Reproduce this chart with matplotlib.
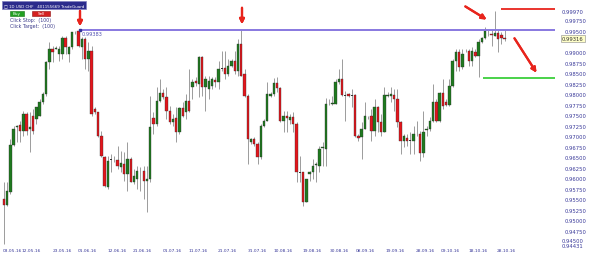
import matplotlib
matplotlib.use("Agg")
import matplotlib.pyplot as plt
from matplotlib.patches import Rectangle

# ---------------- data ----------------
opens = [0.9551,0.9537,0.9568,0.9679,0.9722,0.9727,0.9713,0.9753,0.9717,0.9748,
         0.9741,0.9748,0.9781,0.9800,0.9876,0.9907,0.9907,0.9895,0.9895,0.9933,
         0.9895,0.9912,0.9948,0.9950,0.9912,0.9931,0.9884,0.9903,0.9765,0.9758,
         0.9701,0.9651,0.9580,0.9644,0.9644,0.9644,0.9627,0.9634,0.9610,0.9646,
         0.9592,0.9599,0.9618,0.9618,0.9594,0.9599,0.9743,0.9729,0.9784,0.9803,
         0.9793,0.9760,0.9734,0.9743,0.9710,0.9767,0.9758,0.9784,0.9817,0.9831,
         0.9824,0.9888,0.9817,0.9812,0.9819,0.9834,0.9829,0.9862,0.9862,0.9848,
         0.9867,0.9879,0.9855,0.9919,0.9848,0.9796,0.9686,0.9694,0.9682,0.9651,
         0.9724,0.9736,0.9796,0.9800,0.9827,0.9815,0.9736,0.9748,0.9739,0.9746,
         0.9729,0.9615,0.9615,0.9544,0.9610,0.9615,0.9632,0.9629,0.9672,0.9670,
         0.9779,0.9777,0.9777,0.9829,0.9836,0.9798,0.9800,0.9796,0.9798,0.9701,
         0.9698,0.9717,0.9746,0.9748,0.9713,0.9770,0.9734,0.9710,0.9796,0.9796,
         0.9798,0.9789,0.9734,0.9689,0.9696,0.9691,0.9689,0.9705,0.9705,0.9660,
         0.9715,0.9717,0.9736,0.9781,0.9736,0.9803,0.9781,0.9774,0.9819,0.9879,
         0.9900,0.9865,0.9902,0.9903,0.9879,0.9900,0.9891,0.9924,0.9933,0.9943,
         0.9943,0.9938,0.9945,0.9941,0.9934]
highs = [0.9592,0.9592,0.9694,0.9724,0.9727,0.9736,0.9760,0.9758,0.9758,0.9765,
         0.9770,0.9789,0.9805,0.9879,0.9924,0.9914,0.9914,0.9914,0.9938,0.9938,
         0.9914,0.9948,0.9950,0.9955,0.9936,0.9936,0.9924,0.9914,0.9770,0.9758,
         0.9713,0.9653,0.9653,0.9658,0.9653,0.9677,0.9665,0.9663,0.9686,0.9651,
         0.9622,0.9629,0.9627,0.9629,0.9629,0.9796,0.9758,0.9817,0.9836,0.9812,
         0.9817,0.9772,0.9753,0.9770,0.9770,0.9781,0.9800,0.9860,0.9836,0.9841,
         0.9891,0.9891,0.9843,0.9843,0.9841,0.9841,0.9879,0.9903,0.9903,0.9884,
         0.9884,0.9903,0.9931,0.9952,0.9860,0.9800,0.9696,0.9698,0.9686,0.9729,
         0.9741,0.9829,0.9805,0.9838,0.9841,0.9817,0.9760,0.9760,0.9753,0.9758,
         0.9734,0.9653,0.9615,0.9599,0.9617,0.9646,0.9639,0.9677,0.9686,0.9791,
         0.9789,0.9796,0.9836,0.9860,0.9884,0.9808,0.9803,0.9812,0.9800,0.9705,
         0.9734,0.9781,0.9748,0.9765,0.9789,0.9772,0.9753,0.9817,0.9805,0.9817,
         0.9812,0.9812,0.9736,0.9705,0.9705,0.9710,0.9724,0.9736,0.9713,0.9760,
         0.9724,0.9746,0.9824,0.9789,0.9805,0.9836,0.9789,0.9836,0.9884,0.9907,
         0.9907,0.9907,0.9907,0.9907,0.9912,0.9907,0.9931,0.9936,0.9960,0.9952,
         0.9952,0.9997,0.9952,0.9948,0.9952]
lows = [0.94431,0.9534,0.9563,0.9677,0.9686,0.9686,0.9701,0.9703,0.9663,0.9706,
        0.9729,0.9748,0.9777,0.9796,0.9860,0.9876,0.9907,0.9879,0.9884,0.9895,
        0.9876,0.9907,0.9943,0.9912,0.9884,0.9860,0.9855,0.9748,0.9753,0.9698,
        0.9651,0.9580,0.9575,0.9615,0.9639,0.9622,0.9615,0.9594,0.9570,0.9591,
        0.9587,0.9575,0.9570,0.9551,0.9520,0.9592,0.9706,0.9724,0.9781,0.9789,
        0.9741,0.9729,0.9724,0.9686,0.9705,0.9746,0.9741,0.9758,0.9789,0.9819,
        0.9793,0.9796,0.9760,0.9789,0.9812,0.9817,0.9812,0.9855,0.9836,0.9843,
        0.9865,0.9848,0.9843,0.9843,0.9793,0.9634,0.9682,0.9677,0.9634,0.9646,
        0.9722,0.9736,0.9793,0.9796,0.9805,0.9734,0.9710,0.9710,0.9729,0.9710,
        0.9591,0.9591,0.9534,0.9544,0.9594,0.9599,0.9592,0.9615,0.9629,0.9629,
        0.9774,0.9774,0.9777,0.9824,0.9796,0.9736,0.9793,0.9770,0.9698,0.9689,
        0.9646,0.9717,0.9741,0.9689,0.9701,0.9710,0.9701,0.9710,0.9793,0.9781,
        0.9760,0.9722,0.9658,0.9675,0.9677,0.9658,0.9658,0.9701,0.9641,0.9651,
        0.9701,0.9713,0.9734,0.9734,0.9734,0.9765,0.9772,0.9772,0.9817,0.9855,
        0.9855,0.9860,0.9900,0.9867,0.9867,0.9888,0.9841,0.9921,0.9931,0.9938,
        0.9914,0.9938,0.9900,0.9919,0.9926]
closes = [0.9537,0.9570,0.9679,0.9717,0.9724,0.9713,0.9753,0.9713,0.9722,0.9713,
          0.9770,0.9781,0.9800,0.9876,0.9907,0.9900,0.9910,0.9907,0.9933,0.9912,
          0.9912,0.9948,0.9947,0.9914,0.9931,0.9884,0.9903,0.9753,0.9758,0.9701,
          0.9653,0.9582,0.9641,0.9645,0.9643,0.9629,0.9637,0.9610,0.9646,0.9592,
          0.9606,0.9618,0.9617,0.9594,0.9599,0.9722,0.9729,0.9784,0.9803,0.9793,
          0.9760,0.9734,0.9741,0.9710,0.9767,0.9748,0.9784,0.9760,0.9829,0.9827,
          0.9888,0.9817,0.9836,0.9831,0.9836,0.9829,0.9860,0.9861,0.9848,0.9867,
          0.9879,0.9855,0.9919,0.9843,0.9796,0.9694,0.9694,0.9682,0.9651,0.9724,
          0.9736,0.9800,0.9800,0.9827,0.9815,0.9736,0.9748,0.9743,0.9746,0.9729,
          0.9615,0.9614,0.9544,0.9599,0.9615,0.9629,0.9634,0.9670,0.9674,0.9777,
          0.9779,0.9779,0.9829,0.9836,0.9798,0.9797,0.9796,0.9797,0.9701,0.9696,
          0.9717,0.9748,0.9745,0.9713,0.9770,0.9734,0.9710,0.9798,0.9798,0.9800,
          0.9789,0.9734,0.9689,0.9701,0.9689,0.9690,0.9705,0.9706,0.9660,0.9710,
          0.9717,0.9736,0.9781,0.9736,0.9803,0.9772,0.9774,0.9819,0.9879,0.9900,
          0.9865,0.9895,0.9903,0.9879,0.9903,0.9891,0.9924,0.9933,0.9950,0.9942,
          0.9941,0.9945,0.9931,0.9934,0.99316]

tick_pos = [-0.5, 5.4, 15.1, 22.8, 32.0, 39.7, 48.9, 56.9, 65.8, 75.1, 82.8,
            91.7, 100.3, 108.3, 117.5, 126.5, 134.5, 142.8, 151.7]
tick_labels = ["03.05.16", "12.05.16", "23.05.16", "01.06.16", "12.06.16",
               "21.06.16", "01.07.16", "11.07.16", "21.07.16", "31.07.16",
               "10.08.16", "19.08.16", "30.08.16", "08.09.16", "19.09.16",
               "28.09.16", "09.10.16", "18.10.16", "28.10.16"]

price_ticks = [0.9975, 0.9950, 0.9900, 0.9875, 0.9850, 0.9825, 0.9800, 0.9775,
               0.9750, 0.9725, 0.9700, 0.9675, 0.9650, 0.9625, 0.9600, 0.9575,
               0.9550, 0.9525, 0.9500, 0.9475]
hidden_tick = 0.9450
axis_max = 0.99970
axis_min = 0.94431
last_price = 0.99316
resistance = 0.99524
resistance_label = "0.99383"
resistance_start = 23.4
stop_level = 1.00022
stop_start = 153.0
target_level = 0.98384
target_start = 147.5

# ---------------- figure ----------------
W, H = 601, 255
fig = plt.figure(figsize=(W / 100, H / 100), dpi=100)
fig.patch.set_facecolor("white")

def fx(x):
    return x / W

def fy(y):
    return 1 - y / H

ax = fig.add_axes([fx(1), fy(247), fx(554), (247 - 2) / H])
ax.set_facecolor("white")
ax.set_xlim(-0.9, 169.5)
ax.set_ylim(0.94394, 1.00212)

green = "#1f7a1f"
red = "#e3161c"
wick = "#8c8c8c"

n = len(opens)
xs = list(range(n))
ax.vlines(xs, lows, highs, color=wick, lw=0.6, zorder=1)
for i in range(n):
    o, c = opens[i], closes[i]
    body = c - o
    if abs(body) < 0.00012:
        ax.bar(i, 0.00012, bottom=min(o, c) - 0.00003, width=0.7,
               color="#333333", lw=0, zorder=2)
    else:
        col = green if body > 0 else red
        ax.bar(i, body, bottom=o, width=0.75, color=col,
               edgecolor="#2a2a2a", lw=0.25, zorder=2)

# level lines
ax.hlines(resistance, resistance_start, 169.5, color="#8878e0", lw=1.4, zorder=3)
ax.plot([resistance_start], [resistance], marker="s", ms=1.5, color="#333399", zorder=4)
ax.text(resistance_start + 0.6, resistance - 0.0003, resistance_label,
        fontsize=3.6, color="#5050b0", va="top", ha="left")
ax.hlines(stop_level, stop_start, 169.5, color="#e8241c", lw=1.3, zorder=3)
ax.hlines(target_level, target_start, 169.5, color="#3ccf3c", lw=1.3, zorder=3)

# axes styling
for s in ax.spines.values():
    s.set_visible(False)
ax.set_xticks(tick_pos)
ax.set_xticklabels(tick_labels, ha="left")
ax.tick_params(axis="x", length=0, pad=1.2, labelsize=3.2, labelcolor="#3a3a9a")
ax.yaxis.tick_right()
ax.set_yticks(price_ticks)
ax.set_yticklabels([f"{v:.5f}" for v in price_ticks])
ax.tick_params(axis="y", length=0, pad=7, labelsize=3.8, labelcolor="#3a3a9a")

lab_x = 1.0 + 7 / 554
ytr = ax.get_yaxis_transform()
ax.text(lab_x, axis_max, f"{axis_max:.5f}", transform=ytr,
        fontsize=3.8, color="#3a3a9a", va="center", ha="left")
ax.text(lab_x, hidden_tick + 0.0002, f"{hidden_tick:.5f}", transform=ytr,
        fontsize=3.8, color="#3a3a9a", va="center", ha="left")
ax.text(lab_x, axis_min - 0.0002, f"{axis_min:.5f}", transform=ytr,
        fontsize=3.8, color="#3a3a9a", va="center", ha="left",
        bbox=dict(boxstyle="square,pad=0.05", fc="white", ec="none"))
ax.text(lab_x, last_price, f"{last_price:.5f}", transform=ytr,
        fontsize=3.8, color="#333333", va="center", ha="left",
        bbox=dict(boxstyle="square,pad=0.15", fc="#ffffc8", ec="#888888", lw=0.4))

# title box and buttons
fig.add_artist(Rectangle((fx(2), fy(10)), fx(84), 8 / H, transform=fig.transFigure,
                         fc="#2b2b8c", ec="#8080c0", lw=0.5))
fig.text(fx(3.5), fy(6), "\u25a1 1D USD CHF   401155669 TradeGuard", fontsize=2.9,
         color="white", va="center", ha="left")
fig.add_artist(Rectangle((fx(10), fy(16.5)), fx(14), 5 / H, transform=fig.transFigure,
                         fc="#22a022", ec="#147014", lw=0.4))
fig.text(fx(17), fy(14), "Buy", fontsize=3.0, color="white", va="center", ha="center")
fig.add_artist(Rectangle((fx(32), fy(16.5)), fx(18), 5 / H, transform=fig.transFigure,
                         fc="#d42020", ec="#901010", lw=0.4))
fig.text(fx(41), fy(14), "Sell", fontsize=3.0, color="white", va="center", ha="center")
fig.text(fx(10), fy(20.5), "Click Stop:  (100)", fontsize=3.4, color="#3a3a8a",
         va="center", ha="left")
fig.text(fx(10), fy(26.5), "Click Target:  (100)", fontsize=3.4, color="#3a3a8a",
         va="center", ha="left")

# red annotation arrows
arrows = [((80, 9), (80, 30)), ((242, 6), (242, 28)),
          ((463, 6), (489, 22)), ((513, 37), (538, 76))]
for (x0, y0), (x1, y1) in arrows:
    fig.add_artist(plt.annotate("", xy=(fx(x1), fy(y1)), xytext=(fx(x0), fy(y0)),
                                xycoords="figure fraction", textcoords="figure fraction",
                                arrowprops=dict(arrowstyle="-|>", color="#e8241c",
                                                lw=1.6, mutation_scale=7)))

fig.savefig("out.png", dpi=100, facecolor="white")
